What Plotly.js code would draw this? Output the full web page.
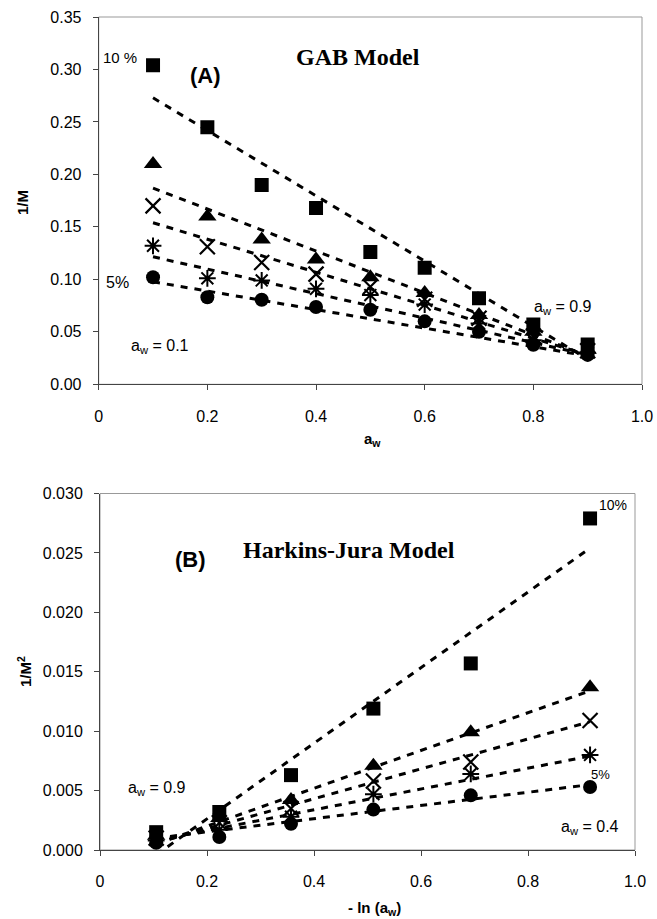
<!DOCTYPE html>
<html><head><meta charset="utf-8">
<script src="https://cdn.plot.ly/plotly-3.0.1.min.js"></script>
<style>html,body{margin:0;padding:0;background:#fff;}#chart{width:657px;height:919px;}</style>
</head><body><div id="chart"></div>
<script>
// ---- Panel A: GAB model, 1/M vs aw ----
const awA = [0.1, 0.2, 0.3, 0.4, 0.5, 0.6, 0.7, 0.8, 0.9];
const gab10 = [0.304, 0.245, 0.190, 0.168, 0.126, 0.111, 0.082, 0.057, 0.038];
const gab9  = [0.210, 0.160, 0.138, 0.119, 0.102, 0.087, 0.066, 0.050, 0.033];
const gab8  = [0.170, 0.131, 0.116, 0.105, 0.093, 0.081, 0.063, 0.046, 0.032];
const gab6  = [0.132, 0.101, 0.099, 0.091, 0.085, 0.076, 0.058, 0.042, 0.030];
const gab5  = [0.102, 0.083, 0.0806, 0.0736, 0.071, 0.060, 0.050, 0.0376, 0.028];
const fitXA = [0.1, 0.9];
const gabFit10 = [0.273, 0.024];
const gabFit9  = [0.187, 0.027];
const gabFit8  = [0.154, 0.028];
const gabFit6  = [0.1215, 0.028];
const gabFit5  = [0.0977, 0.027];

// ---- Panel B: Harkins-Jura model, 1/M^2 vs -ln(aw) ----
const lnB = [0.105, 0.223, 0.357, 0.511, 0.693, 0.916];
const hj10 = [0.0015, 0.0032, 0.0063, 0.0119, 0.0157, 0.0279];
const hj9  = [0.0012, 0.0027, 0.0042, 0.0071, 0.0099, 0.0137];
const hj8  = [0.0010, 0.0023, 0.0035, 0.0058, 0.0074, 0.0109];
const hj6  = [0.0008, 0.0017, 0.0028, 0.0047, 0.0064, 0.0080];
const hj5  = [0.0006, 0.0011, 0.0022, 0.0034, 0.0046, 0.0053];
const fitXB = [0.105, 0.916];
const hjFit10 = [-0.0004, 0.0254];
const hjFit9  = [0.0005, 0.0134];
const hjFit8  = [0.0006, 0.0108];
const hjFit6  = [0.0008, 0.0079];
const hjFit5  = [0.0010, 0.0055];

const xTickVals = [0, 0.2, 0.4, 0.6, 0.8, 1.0];
const xTickText = ['0', '0.2', '0.4', '0.6', '0.8', '1.0'];

const W = 657, H = 919;
const px = x => x / W, py = y => 1 - y / H;

const markers = [
  {symbol: 'square', size: 14},
  {symbol: 'triangle-up', size: 16},
  {symbol: 'x-thin-open', size: 15, line: {width: 2.2, color: '#000'}},
  {symbol: 'asterisk-open', size: 14, line: {width: 2, color: '#000'}},
  {symbol: 'circle', size: 14}
];

const traces = [];
function addPanel(xs, series, fitX, fits, xa, ya) {
  fits.forEach(f => traces.push({
    x: fitX, y: f, xaxis: xa, yaxis: ya, mode: 'lines', type: 'scatter',
    line: {color: '#000', width: 3, dash: '7px,7px'}, hoverinfo: 'skip', showlegend: false
  }));
  series.forEach((s, i) => traces.push({
    x: xs, y: s, xaxis: xa, yaxis: ya, mode: 'markers', type: 'scatter', showlegend: false,
    marker: Object.assign({color: '#000'}, markers[i])
  }));
}
addPanel(awA, [gab10, gab9, gab8, gab6, gab5], fitXA,
  [gabFit10, gabFit9, gabFit8, gabFit6, gabFit5], 'x', 'y');
addPanel(lnB, [hj10, hj9, hj8, hj6, hj5], fitXB,
  [hjFit10, hjFit9, hjFit8, hjFit6, hjFit5], 'x2', 'y2');

const tickFont = {family: 'Liberation Sans, Arial, sans-serif', size: 16, color: '#000'};
const axBase = {
  showgrid: false, zeroline: false, showline: true, linecolor: '#444', linewidth: 1,
  ticks: 'outside', ticklen: 5, tickcolor: '#444', tickfont: tickFont
};

const layout = {
  width: W, height: H, margin: {l: 0, r: 0, t: 0, b: 0},
  paper_bgcolor: '#fff', plot_bgcolor: '#fff', showlegend: false,
  xaxis: Object.assign({}, axBase, {domain: [px(98.7), px(642)], range: [0, 1],
    tickvals: xTickVals, ticktext: xTickText, anchor: 'y', ticklabelstandoff: 12}),
  yaxis: Object.assign({}, axBase, {domain: [py(384.3), py(17)], range: [0, 0.35],
    dtick: 0.05, tickformat: '.2f', anchor: 'x', ticklabelstandoff: 8}),
  xaxis2: Object.assign({}, axBase, {domain: [px(100), px(635)], range: [0, 1],
    tickvals: xTickVals, ticktext: xTickText, anchor: 'y2', ticklabelstandoff: 12}),
  yaxis2: Object.assign({}, axBase, {domain: [py(850), py(493.5)], range: [0, 0.03],
    dtick: 0.005, tickformat: '.3f', anchor: 'x2', ticklabelstandoff: 8}),
  shapes: [
    {type: 'rect', xref: 'x domain', yref: 'y domain', x0: 0, x1: 1, y0: 0, y1: 1,
     line: {color: '#999', width: 1}, layer: 'below'},
    {type: 'rect', xref: 'x2 domain', yref: 'y2 domain', x0: 0, x1: 1, y0: 0, y1: 1,
     line: {color: '#999', width: 1}, layer: 'below'}
  ],
  annotations: []
};

const sans = 'Liberation Sans, Arial, sans-serif';
const serif = 'Liberation Serif, Times New Roman, serif';
function note(text, x, y, size, opts) {
  layout.annotations.push(Object.assign({
    text: text, xref: 'paper', yref: 'paper', x: px(x), y: py(y),
    xanchor: 'center', yanchor: 'middle', showarrow: false,
    font: {family: sans, size: size, color: '#000'}
  }, opts || {}));
}
// Panel A texts
note('10 %', 120, 57, 15);
note('<b>(A)</b>', 205, 75, 22);
note('<b>GAB Model</b>', 358, 57, 24, {font: {family: serif, size: 24, color: '#000'}});
note('5%', 117, 282, 16);
note('a<sub>w</sub> = 0.1', 160, 347, 16);
note('a<sub>w</sub> = 0.9', 563, 307, 16);
note('<b>a<sub>w</sub></b>', 372, 439, 15);
note('<b>1/M</b>', 22, 203, 15, {textangle: -90});
// Panel B texts
note('<b>(B)</b>', 190, 559, 22);
note('<b>Harkins-Jura Model</b>', 349, 550, 24, {font: {family: serif, size: 24, color: '#000'}});
note('10%', 613, 505, 14);
note('a<sub>w</sub> = 0.9', 157, 788, 16);
note('a<sub>w</sub> = 0.4', 590, 827, 16);
note('5%', 600, 774, 13);
note('<b>- ln (a<sub>w</sub>)</b>', 374, 908, 15);
note('<b>1/M<sup>2</sup></b>', 24, 672, 15, {textangle: -90});

Plotly.newPlot('chart', traces, layout, {displayModeBar: false});
</script></body></html>
